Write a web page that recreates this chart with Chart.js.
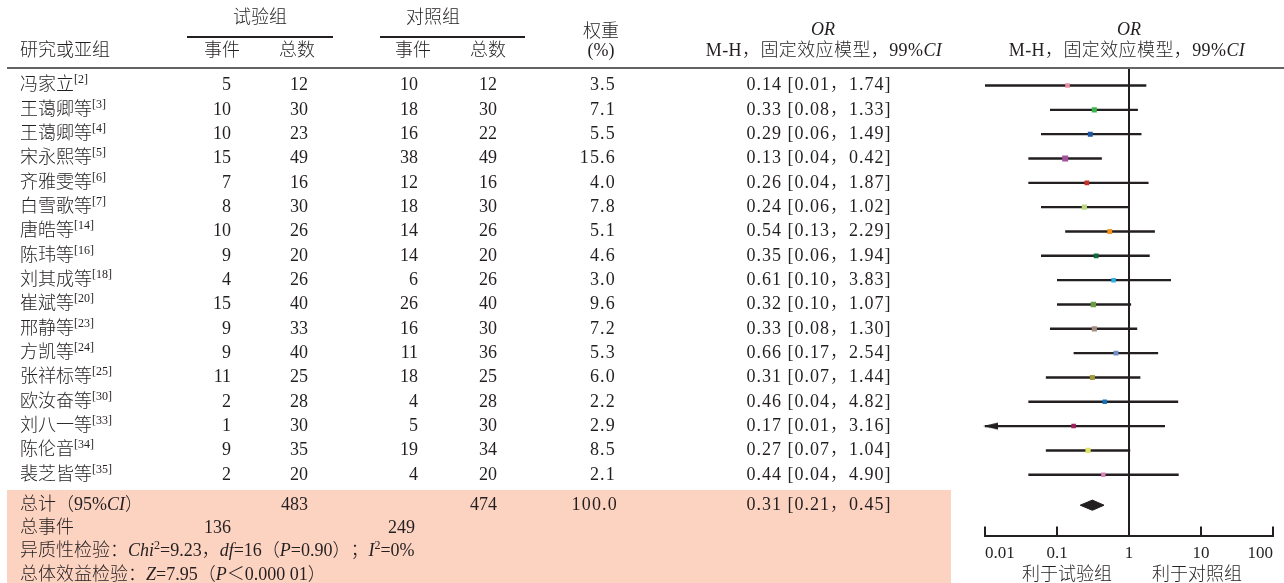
<!DOCTYPE html>
<html>
<head>
<meta charset="utf-8">
<script src="https://cdn.jsdelivr.net/npm/chart.js@4.4.1/dist/chart.umd.min.js"></script>
<style>
  html, body { margin: 0; padding: 0; background: #ffffff; overflow: hidden; }
  #wrap { position: relative; width: 1284px; height: 583px; }
</style>
</head>
<body>
<div id="wrap"><canvas id="forest" width="1284" height="583"></canvas></div>
<script>
// ---- study data ----
const studies = ['冯家立', '王蔼卿等', '王蔼卿等', '宋永熙等', '齐雅雯等', '白雪歌等', '唐皓等', '陈玮等',
  '刘其成等', '崔斌等', '邢静等', '方凯等', '张祥标等', '欧汝奋等', '刘八一等', '陈伦音', '裴芝皆等'];
const refs = ['[2]', '[3]', '[4]', '[5]', '[6]', '[7]', '[14]', '[16]', '[18]', '[20]', '[23]', '[24]', '[25]', '[30]', '[33]', '[34]', '[35]'];
const expEvents = [5, 10, 10, 15, 7, 8, 10, 9, 4, 15, 9, 9, 11, 2, 1, 9, 2];
const expTotals = [12, 30, 23, 49, 16, 30, 26, 20, 26, 40, 33, 40, 25, 28, 30, 35, 20];
const ctlEvents = [10, 18, 16, 38, 12, 18, 14, 14, 6, 26, 16, 11, 18, 4, 5, 19, 4];
const ctlTotals = [12, 30, 22, 49, 16, 30, 26, 20, 26, 40, 30, 36, 25, 28, 30, 34, 20];
const weights = [3.5, 7.1, 5.5, 15.6, 4.0, 7.8, 5.1, 4.6, 3.0, 9.6, 7.2, 5.3, 6.0, 2.2, 2.9, 8.5, 2.1];
const oddsRatios = [0.14, 0.33, 0.29, 0.13, 0.26, 0.24, 0.54, 0.35, 0.61, 0.32, 0.33, 0.66, 0.31, 0.46, 0.17, 0.27, 0.44];
const ciLower = [0.01, 0.08, 0.06, 0.04, 0.04, 0.06, 0.13, 0.06, 0.10, 0.10, 0.08, 0.17, 0.07, 0.04, 0.01, 0.07, 0.04];
const ciUpper = [1.74, 1.33, 1.49, 0.42, 1.87, 1.02, 2.29, 1.94, 3.83, 1.07, 1.30, 2.54, 1.44, 4.82, 3.16, 1.04, 4.90];
// interval continues past the left end of the axis
const lowerBeyondAxis = ['刘八一等'];

// ---- pooled result ----
const pooledOR = 0.31;
const pooledLower = 0.21;
const pooledUpper = 0.45;
const totalExpEvents = 136;
const totalExpN = 483;
const totalCtlEvents = 249;
const totalCtlN = 474;
const totalWeight = 100.0;

// ---- axis ----
const tickValues = [0.01, 0.1, 1, 10, 100];
const tickLabels = ['0.01', '0.1', '1', '10', '100'];

// ---- styling ----
const ink = '#231f20';
const ruleGray = '#646466';
const bandColor = '#fcd3c1';
const markerColors = ['#ec8fa3', '#3cb54a', '#1f55a5', '#a3519b', '#c9302c', '#bdd683', '#f7941d', '#0f6b3f',
  '#2cb1e8', '#6a9a43', '#a48c7f', '#6f8fc5', '#a09b3b', '#1374bd', '#a21f5f', '#dfe46a', '#dc83ba'];
const LATIN = '"Liberation Serif"';
const CJK = '"Noto Sans CJK SC"';
const baseSize = 18;

function fontFor(style, size) {
  const it = style.includes('i') ? 'italic ' : '';
  return `${it}300 ${size}px ${LATIN}, ${CJK}, serif`;
}

// draw a run of text pieces: [text, style] where style may hold 'i' (italic) or 's' (superscript)
function drawRich(ctx, parts, x, y, align, size, spacing) {
  size = size || baseSize;
  ctx.letterSpacing = (spacing || 0) + 'px';
  const items = parts.map(([t, s = '']) => {
    const sup = s.includes('s');
    const sz = sup ? Math.round(size * 0.64) : size;
    ctx.font = fontFor(s, sz);
    return { t, s, sup, sz, w: ctx.measureText(t).width };
  });
  const total = items.reduce((a, b) => a + b.w, 0);
  let cx = align === 'center' ? x - total / 2 : align === 'right' ? x - total : x;
  ctx.textAlign = 'left';
  ctx.textBaseline = 'middle';
  for (const it of items) {
    ctx.font = fontFor(it.s, it.sz);
    ctx.fillText(it.t, cx, it.sup ? y - size * 0.3 : y);
    cx += it.w;
  }
  ctx.letterSpacing = '0px';
}

function fmtCI(or, lo, hi) {
  return `${or.toFixed(2)} [${lo.toFixed(2)}，${hi.toFixed(2)}]`;
}

// arrow head used where an interval runs off the axis
function makeArrowHead() {
  const c = document.createElement('canvas');
  c.width = 30; c.height = 10;
  const g = c.getContext('2d');
  g.fillStyle = ink;
  g.beginPath();
  g.moveTo(13, 5); g.lineTo(28, 1.4); g.lineTo(28, 8.6); g.closePath();
  g.fill();
  return c;
}

// column anchors for the table part
const col = { name: 20, expEv: 231, expN: 308, ctlEv: 418, ctlN: 497, weight: 616, ciText: 819 };
const totalRow = 17.25;
const footerRows = [18.2, 19.15, 20.12];

const tablePlugin = {
  id: 'studyTable',
  beforeDraw(chart) {
    const { ctx } = chart;
    ctx.save();
    ctx.fillStyle = bandColor;
    ctx.fillRect(7, 490, 944, 93);
    ctx.restore();
  },
  afterDraw(chart) {
    const { ctx } = chart;
    const ys = chart.scales.y;
    const xs = chart.scales.x;
    ctx.save();
    ctx.fillStyle = ink;

    // header
    drawRich(ctx, [['试验组']], 260, 18, 'center');
    drawRich(ctx, [['对照组']], 433, 18, 'center');
    ctx.strokeStyle = ink; ctx.lineWidth = 2;
    ctx.beginPath();
    ctx.moveTo(187, 37); ctx.lineTo(333, 37);
    ctx.moveTo(380, 37); ctx.lineTo(525, 37);
    ctx.stroke();
    drawRich(ctx, [['研究或亚组']], col.name, 51, 'left');
    drawRich(ctx, [['事件']], 222, 51, 'center');
    drawRich(ctx, [['总数']], 297, 51, 'center');
    drawRich(ctx, [['事件']], 413, 51, 'center');
    drawRich(ctx, [['总数']], 488, 51, 'center');
    drawRich(ctx, [['权重']], 601, 32, 'center');
    drawRich(ctx, [['(%)']], 601, 51, 'center');
    drawRich(ctx, [['OR', 'i']], 823, 30, 'center');
    drawRich(ctx, [['M-H，固定效应模型，99%'], ['CI', 'i']], 824, 51, 'center', baseSize, 0.4);
    const one = xs.getPixelForValue(1);
    drawRich(ctx, [['OR', 'i']], one, 30, 'center');
    drawRich(ctx, [['M-H，固定效应模型，99%'], ['CI', 'i']], one - 2, 51, 'center', baseSize, 0.4);

    ctx.strokeStyle = ruleGray; ctx.lineWidth = 2;
    ctx.beginPath(); ctx.moveTo(7, 68); ctx.lineTo(1284, 68); ctx.stroke();

    // study rows
    studies.forEach((name, i) => {
      const y = ys.getPixelForValue(i);
      drawRich(ctx, [[name], [refs[i], 's']], col.name, y, 'left');
      drawRich(ctx, [[String(expEvents[i])]], col.expEv, y, 'right');
      drawRich(ctx, [[String(expTotals[i])]], col.expN, y, 'right');
      drawRich(ctx, [[String(ctlEvents[i])]], col.ctlEv, y, 'right');
      drawRich(ctx, [[String(ctlTotals[i])]], col.ctlN, y, 'right');
      drawRich(ctx, [[weights[i].toFixed(1)]], col.weight, y, 'right', baseSize, 1.2);
      drawRich(ctx, [[fmtCI(oddsRatios[i], ciLower[i], ciUpper[i])]], col.ciText, y, 'center', baseSize, 1.0);
    });

    // totals
    const ty = ys.getPixelForValue(totalRow);
    drawRich(ctx, [['总计（95%'], ['CI', 'i'], ['）']], col.name, ty, 'left');
    drawRich(ctx, [[String(totalExpN)]], col.expN, ty, 'right');
    drawRich(ctx, [[String(totalCtlN)]], col.ctlN, ty, 'right');
    drawRich(ctx, [[totalWeight.toFixed(1)]], col.weight + 2, ty, 'right', baseSize, 1.2);
    drawRich(ctx, [[fmtCI(pooledOR, pooledLower, pooledUpper)]], col.ciText, ty, 'center', baseSize, 1.0);

    const y1 = ys.getPixelForValue(footerRows[0]);
    drawRich(ctx, [['总事件']], col.name, y1, 'left');
    drawRich(ctx, [[String(totalExpEvents)]], col.expEv, y1, 'right');
    drawRich(ctx, [[String(totalCtlEvents)]], col.ctlEv - 3, y1, 'right');
    drawRich(ctx, [['异质性检验：'], ['Chi', 'i'], ['2', 's'], ['=9.23，'], ['df', 'i'], ['=16（'], ['P', 'i'], ['=0.90）；'], ['I', 'i'], ['2', 's'], ['=0%']],
      col.name, ys.getPixelForValue(footerRows[1]), 'left');
    drawRich(ctx, [['总体效益检验：'], ['Z', 'i'], ['=7.95（'], ['P', 'i'], ['＜0.000 01）']],
      col.name, ys.getPixelForValue(footerRows[2]), 'left');

    // favours labels under the axis
    drawRich(ctx, [['利于试验组']], one - 62, 575, 'center');
    drawRich(ctx, [['利于对照组']], one + 68, 575, 'center');
    ctx.restore();
  }
};

const arrowHead = makeArrowHead();
const rows = studies.map((_, i) => i);

const ciSegments = [];
rows.forEach(i => {
  ciSegments.push({ x: ciLower[i], y: i }, { x: ciUpper[i], y: i }, { x: null, y: null });
});

const diamond = [
  { x: pooledLower, y: totalRow },
  { x: pooledOR, y: totalRow - 0.21 },
  { x: pooledUpper, y: totalRow },
  { x: pooledOR, y: totalRow + 0.21 },
  { x: pooledLower, y: totalRow }
];

new Chart(document.getElementById('forest'), {
  type: 'scatter',
  data: {
    datasets: [
      {
        label: '点估计',
        order: 0,
        data: rows.map(i => ({ x: oddsRatios[i], y: i })),
        pointStyle: 'rect',
        pointRadius: weights.map(w => (3.4 + 0.65 * Math.sqrt(w)) / Math.SQRT2),
        backgroundColor: markerColors,
        borderWidth: 0
      },
      {
        label: '箭头',
        order: 1,
        data: rows.filter(i => lowerBeyondAxis.includes(studies[i])).map(i => ({ x: ciLower[i], y: i })),
        pointStyle: arrowHead,
        pointRadius: 6,
        clip: false
      },
      {
        label: '99%CI',
        type: 'line',
        order: 2,
        data: ciSegments,
        borderColor: ink,
        borderWidth: 2.4,
        pointRadius: 0,
        spanGaps: false,
        fill: false,
        clip: 4
      },
      {
        label: '合并',
        type: 'line',
        order: 3,
        data: diamond,
        borderColor: ink,
        backgroundColor: ink,
        borderWidth: 1,
        pointRadius: 0,
        fill: 'shape'
      }
    ]
  },
  options: {
    responsive: false,
    animation: false,
    events: [],
    layout: { padding: { left: 985, right: 0, top: 68, bottom: 2 } },
    plugins: { legend: { display: false }, tooltip: { enabled: false } },
    scales: {
      x: {
        type: 'logarithmic',
        position: 'bottom',
        min: 0.01,
        max: 100,
        afterBuildTicks: scale => { scale.ticks = tickValues.map(v => ({ value: v })); },
        // keep the plot area reaching close to the right edge of the page
        afterFit: scale => { scale.paddingRight = 11; },
        ticks: {
          autoSkip: false,
          maxRotation: 0,
          align: 'inner',
          padding: 17,
          color: ink,
          font: { family: 'Liberation Serif', size: 17 },
          callback: (v, i) => tickLabels[i]
        },
        grid: {
          drawOnChartArea: true,
          color: c => (c.tick && c.tick.value === 1 ? ink : 'rgba(0,0,0,0)'),
          lineWidth: 2,
          drawTicks: true,
          tickLength: -9,
          tickColor: ink,
          tickWidth: 2
        },
        border: { display: true, color: ink, width: 2 }
      },
      y: {
        type: 'linear',
        display: false,
        reverse: true,
        min: -0.72,
        max: 18.5
      }
    }
  },
  plugins: [tablePlugin]
});
</script>
</body>
</html>
